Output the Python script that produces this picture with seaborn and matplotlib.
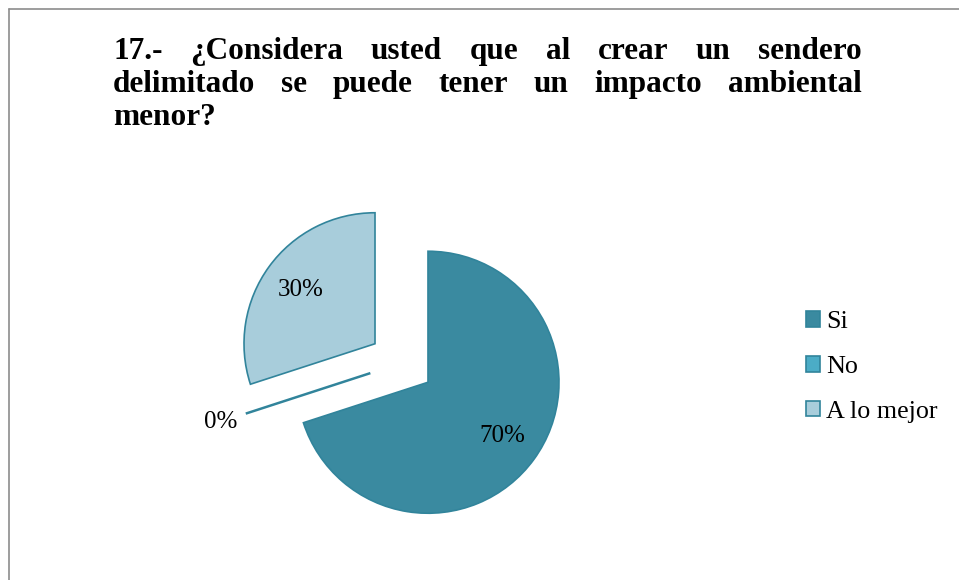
import numpy as np
import matplotlib
matplotlib.use("Agg")
import matplotlib.pyplot as plt
import seaborn as sns
from matplotlib.patches import Patch
from matplotlib.lines import Line2D

categories = ["Si", "No", "A lo mejor"]
values = [70, 1e-9, 30]
pct_labels = ["70%", "0%", "30%"]
title_lines = [
    "17.- ¿Considera usted que al crear un sendero",
    "delimitado se puede tener un impacto ambiental",
    "menor?",
]

sns.set_theme(style="white")
plt.rcParams["font.family"] = ["Liberation Serif", "DejaVu Serif"]
plt.rcParams["text.color"] = "black"

colors = ["#3A8AA0", "#4BACC6", "#A8CDDB"]
edge = "#31849B"

W, H = 959, 580
fig = plt.figure(figsize=(W / 100, H / 100), dpi=100)
fig.patch.set_facecolor("white")

# border (left and top only visible)
fig.add_artist(Line2D([9 / W, 9 / W], [0, 1 - 9 / H], transform=fig.transFigure,
                      color="#8c8c8c", lw=1.2))
fig.add_artist(Line2D([9 / W, 1], [1 - 9 / H, 1 - 9 / H], transform=fig.transFigure,
                      color="#8c8c8c", lw=1.2))

# pie axes placed by pixels: center and radius
cx, cy, r, s = 401.5, 363, 131, 220
ax = fig.add_axes([(cx - s) / W, (H - cy - s) / H, 2 * s / W, 2 * s / H])
wedges, texts, autotexts = ax.pie(
    values, colors=colors, startangle=90, counterclock=False,
    explode=[0.25, 0.25, 0.25], labels=None,
    autopct=lambda p: "", pctdistance=0.7,
    wedgeprops=dict(edgecolor=edge, linewidth=1.2),
    textprops=dict(fontsize=18, color="black"),
)
wedges[1].set_linewidth(1.8)
for t, lab in zip(autotexts, pct_labels):
    t.set_text(lab)
# zero slice label sits outside
ang = np.deg2rad(198)
autotexts[1].set_position((1.45 * np.cos(ang), 1.45 * np.sin(ang)))
lim = s / r
ax.set_xlim(-lim, lim)
ax.set_ylim(-lim, lim)
ax.axis("off")

# legend
handles = [Patch(facecolor=c, edgecolor=edge, linewidth=1.2) for c in colors]
leg = fig.legend(handles, categories, loc="center left",
                 bbox_to_anchor=(806 / W, 1 - 367 / H), frameon=False, fontsize=18.8,
                 handlelength=0.54, handleheight=0.54, handletextpad=0.24,
                 labelspacing=0.87, borderpad=0, borderaxespad=0)
for t in leg.get_texts():
    t.set_color("black")

# justified bold title
left, right = 113, 862
baselines = [59, 92, 125]
renderer = fig.canvas.get_renderer()
for i, line in enumerate(title_lines):
    words = line.split(" ")
    objs = [fig.text(0, 1 - baselines[i] / H, w, fontsize=22.5, fontweight="bold",
                     ha="left", va="baseline", color="black") for w in words]
    widths = [o.get_window_extent(renderer).width for o in objs]
    if i < len(title_lines) - 1:
        gap = (right - left - sum(widths)) / (len(words) - 1)
    else:
        gap = objs[0].get_window_extent(renderer).height * 0.25
    x = left
    for o, w in zip(objs, widths):
        o.set_x(x / W)
        x += w + gap

fig.savefig("out.png", dpi=100, facecolor="white")
